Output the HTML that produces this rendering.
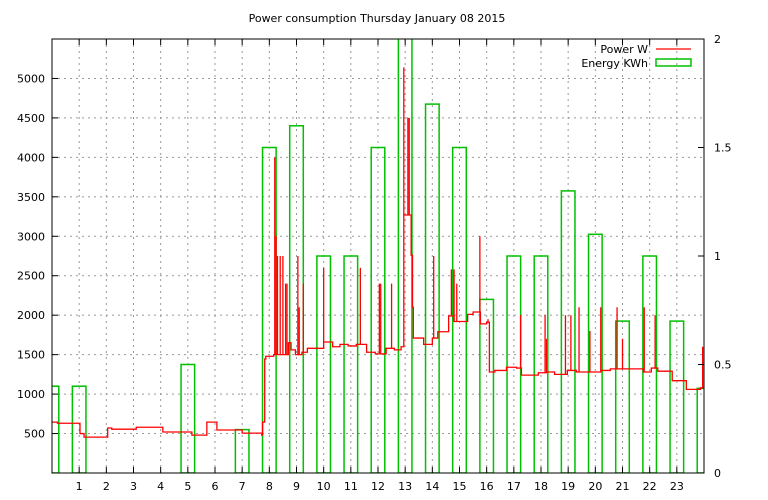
<!DOCTYPE html>
<html><head><meta charset="utf-8"><style>
body{margin:0;background:#fff}
svg{display:block;font-family:"DejaVu Sans","Liberation Sans",sans-serif;font-size:11px}
</style></head><body>
<svg id="c" width="768" height="500"></svg>
<script>
const energyHours=[0,1,2,3,4,5,6,7,8,9,10,11,12,13,14,15,16,17,18,19,20,21,22,23,24];
const energyValues=[0.4,0.4,0,0,0,0.5,0,0.2,1.5,1.6,1,1,1.5,2.1,1.7,1.5,0.8,1,1,1.3,1.1,0.7,1,0.7,0.39];
const powerHours=[0,0.2,1.03,1.18,2.05,2.2,3.1,4.08,5.15,5.7,6.07,7.0,7.72,7.75,7.83,7.87,8.16,8.7,8.8,8.96,9.2,9.4,10.0,10.33,10.6,10.9,11.2,11.58,11.9,12.3,12.6,12.85,12.95,13.22,13.27,13.3,13.68,14.0,14.2,14.6,14.8,15.3,15.5,15.77,16.0,16.1,16.3,16.73,17.1,17.28,17.9,18.2,18.5,18.97,19.3,20.2,20.55,21.77,22.06,22.3,22.83,23.35,23.87,24];
const powerValues=[645,630,500,455,570,555,580,520,480,645,545,505,480,645,1445,1480,1500,1650,1560,1500,1530,1580,1660,1600,1630,1610,1630,1530,1510,1580,1560,1600,3270,2760,2100,1710,1630,1710,1790,1990,1920,2010,2040,1890,1910,1280,1300,1340,1330,1240,1270,1280,1250,1300,1280,1300,1320,1280,1330,1290,1170,1060,1080,1080];
const spikeHours=[8.2,8.25,8.3,8.4,8.5,8.6,8.65,9.05,9.1,9.25,10.0,11.35,12.05,12.1,12.5,12.95,13.1,13.15,13.25,14.05,14.7,14.8,14.9,15.75,16.05,17.25,18.15,18.2,18.9,19.1,19.4,19.8,20.2,20.8,21.0,21.8,22.2,23.95];
const spikeValues=[4000,3000,2750,2750,2750,2400,2400,2750,2100,2400,2600,2600,2400,2400,2400,5140,4500,4500,2750,2750,2580,2580,2400,3000,1950,2000,2000,1700,2000,2000,2100,1800,2100,2100,1700,2100,2000,1600];
const yTicks=[500,1000,1500,2000,2500,3000,3500,4000,4500,5000];
const y2Ticks=[0,0.5,1,1.5,2];
const xTicks=[1,2,3,4,5,6,7,8,9,10,11,12,13,14,15,16,17,18,19,20,21,22,23];

const L=52,R=704,T=39,B=473;
const X=h=>L+(R-L)*h/24;
const Y=v=>B-(B-T)*v/5500;
const Y2=v=>B-(B-T)*v/2;
const svg=document.getElementById('c');const NS='http://www.w3.org/2000/svg';
function el(tag,attrs,parent){const e=document.createElementNS(NS,tag);for(const k in attrs)e.setAttribute(k,attrs[k]);(parent||svg).appendChild(e);return e;}
function txt(x,y,s,anchor){const t=el('text',{x:x,y:y,'text-anchor':anchor||'middle',fill:'#000'});t.textContent=s;return t;}

const title=txt(377,22,'Power consumption Thursday January 08 2015');



const grid=el('g',{stroke:'#999','stroke-dasharray':'2,4','stroke-width':1});


xTicks.forEach(h=>{el('line',{x1:X(h),x2:X(h),y1:T,y2:B},grid);});
yTicks.forEach(v=>{el('line',{x1:L,x2:R,y1:Y(v),y2:Y(v)},grid);});

const clip=el('clipPath',{id:'pc'});el('rect',{x:L,y:T,width:R-L,height:B-T},clip);
const bars=el('g',{'clip-path':'url(#pc)',fill:'none',stroke:'#00c000','stroke-width':1.5});


energyHours.forEach((h,i)=>{const v=energyValues[i];if(v<=0)return;
 const r=el('rect',{x:X(h-0.25),y:Y2(v),width:X(0.5)-X(0),height:B-Y2(v)},bars);
 
 });

const pg=el('g',{'clip-path':'url(#pc)',fill:'none',stroke:'#f00','stroke-width':1.3});


let d='';powerHours.forEach((h,i)=>{const x=X(h),y=Y(powerValues[i]);if(i==0)d+='M'+x+','+y;else d+='V'+y;const nx=i<powerHours.length-1?X(powerHours[i+1]):X(24);d+='H'+nx;});
const pl=el('path',{d:d},pg);


function baseAt(h){let v=powerValues[0];powerHours.forEach((ph,i)=>{if(ph<=h)v=powerValues[i];});return v;}
spikeHours.forEach((h,i)=>{const s=el('line',{x1:X(h),x2:X(h),y1:Y(baseAt(h)),y2:Y(spikeValues[i])},pg);
 
 });

const ax=el('g',{stroke:'#000','stroke-width':1,fill:'none'});


el('rect',{x:L,y:T,width:R-L,height:B-T},ax);
xTicks.forEach(h=>{el('line',{x1:X(h),x2:X(h),y1:B,y2:B-6},ax);el('line',{x1:X(h),x2:X(h),y1:T,y2:T+6},ax);});
yTicks.forEach(v=>{el('line',{x1:L,x2:L+6,y1:Y(v),y2:Y(v)},ax);});
y2Ticks.forEach(v=>{el('line',{x1:R,x2:R-6,y1:Y2(v),y2:Y2(v)},ax);});
xTicks.forEach(h=>{const t=txt(X(h),490,String(h));});
yTicks.forEach(v=>{const t=txt(L-7,Y(v)+4,String(v),'end');});
y2Ticks.forEach(v=>{const t=txt(R+10,Y2(v)+4,String(v),'start');});

const lg=el('g',{});


const l1=txt(648,53,'Power W','end');lg.appendChild(l1);
el('line',{x1:656,x2:691,y1:49,y2:49,stroke:'#f00','stroke-width':1.3},lg);
const l2=txt(648,67,'Energy KWh','end');lg.appendChild(l2);
el('rect',{x:656,y:59,width:35,height:7,fill:'none',stroke:'#00c000','stroke-width':1.5},lg);
</script>
</body></html>
